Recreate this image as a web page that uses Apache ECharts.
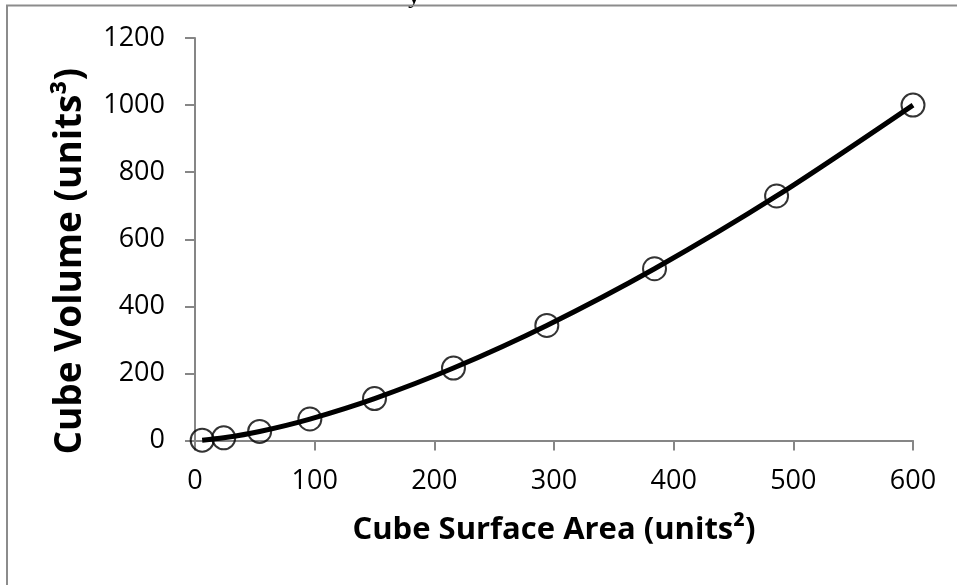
<!DOCTYPE html>
<html>
<head>
<meta charset="utf-8">
<script src="https://cdn.jsdelivr.net/npm/echarts@6/dist/echarts.min.js"></script>
<style>
html,body{margin:0;padding:0;background:#fff;}
#chart{width:957px;height:585px;}
</style>
</head>
<body>
<div id="chart"></div>
<script>
var surfaceArea = [6, 24, 54, 96, 150, 216, 294, 384, 486, 600];
var volume = [1, 8, 27, 64, 125, 216, 343, 512, 729, 1000];
var xTitle = 'Cube Surface Area (units\u00B2)';
var yTitle = 'Cube Volume (units\u00B3)';

var pts = surfaceArea.map(function (x, i) { return [x, volume[i]]; });
var chart = echarts.init(document.getElementById('chart'));
var font = '"Open Sans", "Noto Sans", sans-serif';
var axisLine = { show: true, lineStyle: { color: '#868686', width: 2 } };
var axisTick = { show: true, inside: false, length: 10, lineStyle: { color: '#868686', width: 2 } };
var plain = function (v) { return String(v); };
chart.setOption({
  backgroundColor: '#fff',
  animation: false,
  grid: { left: 195, right: 44, top: 38, bottom: 144.5, containLabel: false },
  xAxis: {
    type: 'value', min: 0, max: 600, interval: 100,
    axisLine: axisLine, axisTick: axisTick, splitLine: { show: false },
    axisLabel: { color: '#000', fontSize: 27, fontFamily: font, margin: 27, formatter: plain },
    name: xTitle, nameLocation: 'middle', nameGap: 74, nameMoveOverlap: false,
    nameTextStyle: { color: '#000', fontSize: 31, fontWeight: 'bold', fontFamily: font }
  },
  yAxis: {
    type: 'value', min: 0, max: 1200, interval: 200,
    axisLine: axisLine, axisTick: axisTick, splitLine: { show: false },
    axisLabel: { color: '#000', fontSize: 27, fontFamily: font, margin: 30, formatter: plain },
    name: yTitle, nameLocation: 'middle', nameGap: 106, nameRotate: 90, nameMoveOverlap: false,
    nameTextStyle: { color: '#000', fontSize: 37, fontWeight: 'bold', fontFamily: font, padding: [0, 44, 0, 0] }
  },
  graphic: [
    { type: 'rect', shape: { x: 7, y: 5.5, width: 1000, height: 700 }, style: { fill: 'none', stroke: '#8c8c8c', lineWidth: 2 }, silent: true, z: 20 },
    { type: 'text', x: 408, y: -15, style: { text: 'y', fill: '#000', font: 'bold 24px "Liberation Serif", serif' }, silent: true, z: 10 }
  ],
  series: [
    {
      type: 'line', data: pts, smooth: 0.3, showSymbol: false, symbol: 'none',
      lineStyle: { color: '#000', width: 5 }, z: 2
    },
    {
      type: 'scatter', data: pts, symbol: 'circle', symbolSize: 23,
      itemStyle: { color: 'rgba(0,0,0,0)', borderColor: '#000', borderWidth: 2 }, z: 3
    }
  ]
});
</script>
</body>
</html>
